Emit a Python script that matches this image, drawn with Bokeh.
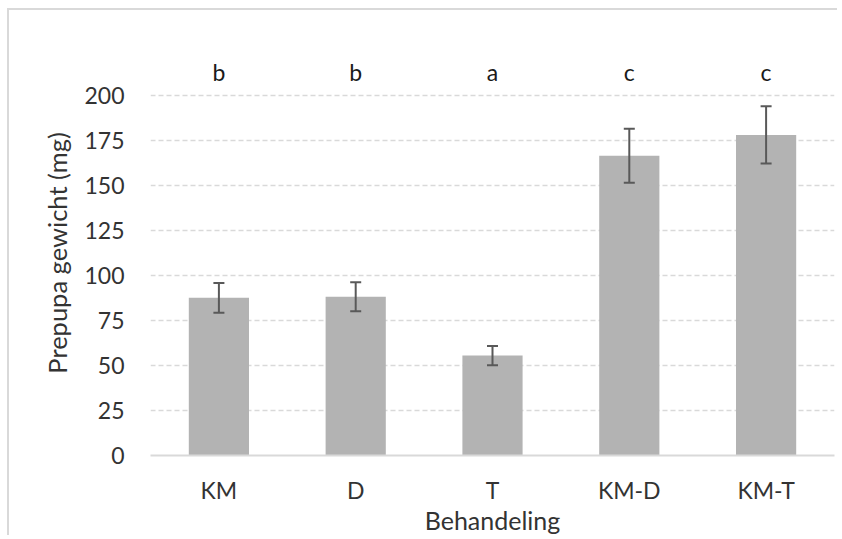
from bokeh.plotting import figure
from bokeh.layouts import column
from bokeh.models import ColumnDataSource, Whisker, FixedTicker, FactorRange, Range1d, TeeHead
from bokeh.core.properties import value
from bokeh.embed import file_html
from bokeh.resources import INLINE

categories = ["KM", "D", "T", "KM-D", "KM-T"]
means = [87.6, 88.2, 55.5, 166.5, 178.1]
errors = [8.3, 8.0, 5.4, 15.0, 15.9]
letters = ["b", "b", "a", "c", "c"]
letter_y = [213.3, 213.3, 213.3, 213.3, 213.3]
y_ticks = [0, 25, 50, 75, 100, 125, 150, 175, 200]

FONT = "Lato"
TXT = "#333333"

src = ColumnDataSource(dict(
    cat=categories,
    mean=means,
    upper=[m + e for m, e in zip(means, errors)],
    lower=[m - e for m, e in zip(means, errors)],
    letter=letters,
    ly=letter_y,
))

p = figure(
    x_range=FactorRange(*categories, range_padding=0),
    y_range=Range1d(0, 225),
    width=830, height=527,
    output_backend="svg", toolbar_location=None,
    min_border_left=141, min_border_right=5,
    min_border_top=40, min_border_bottom=81,
)
p.outline_line_color = None
p.background_fill_color = "white"
p.border_fill_color = "white"

p.vbar(x="cat", top="mean", width=0.44, source=src, fill_color="#b3b3b3", line_color=None)

w = Whisker(base="cat", upper="upper", lower="lower", source=src, level="overlay",
            line_color="#595959", line_width=2,
            upper_head=TeeHead(size=11, line_color="#595959", line_width=2),
            lower_head=TeeHead(size=11, line_color="#595959", line_width=2))
p.add_layout(w)

p.text(x="cat", y="ly", text="letter", source=src, text_font=value(FONT),
       text_font_size="23px", text_color="#1a1a1a", text_align="center",
       text_baseline="alphabetic")

# y axis
p.yaxis.ticker = FixedTicker(ticks=y_ticks)
p.yaxis.axis_line_color = None
p.yaxis.major_tick_line_color = None
p.yaxis.minor_tick_line_color = None
p.yaxis.major_label_standoff = 20
p.yaxis.major_label_text_font = FONT
p.yaxis.major_label_text_font_size = "23px"
p.yaxis.major_label_text_color = TXT
p.yaxis.axis_label = "Prepupa gewicht (mg)"
p.yaxis.axis_label_text_font = FONT
p.yaxis.axis_label_text_font_size = "25.5px"
p.yaxis.axis_label_text_font_style = "normal"
p.yaxis.axis_label_text_color = TXT
p.yaxis.axis_label_standoff = 9

# x axis
p.xaxis.axis_line_color = "#d9d9d9"
p.xaxis.axis_line_width = 2
p.xaxis.major_tick_line_color = None
p.xaxis.minor_tick_line_color = None
p.xaxis.major_label_standoff = 14
p.xaxis.major_label_text_font = FONT
p.xaxis.major_label_text_font_size = "23px"
p.xaxis.major_label_text_color = TXT
p.xaxis.axis_label = "Behandeling"
p.xaxis.axis_label_text_font = FONT
p.xaxis.axis_label_text_font_size = "25px"
p.xaxis.axis_label_text_font_style = "normal"
p.xaxis.axis_label_text_color = TXT
p.xaxis.axis_label_standoff = -2

p.xgrid.grid_line_color = None
p.ygrid.grid_line_color = "#d9d9d9"
p.ygrid.grid_line_width = 1.5
p.ygrid.grid_line_dash = "5 3"

# chart-area border along the left and top edges, on a wrapper
layout = column(p, styles={"margin-left": "9px", "margin-top": "10px",
                           "box-shadow": "-2px -2px 0px 0px #d9d9d9"})

open("out.html", "w").write(file_html(layout, INLINE))
